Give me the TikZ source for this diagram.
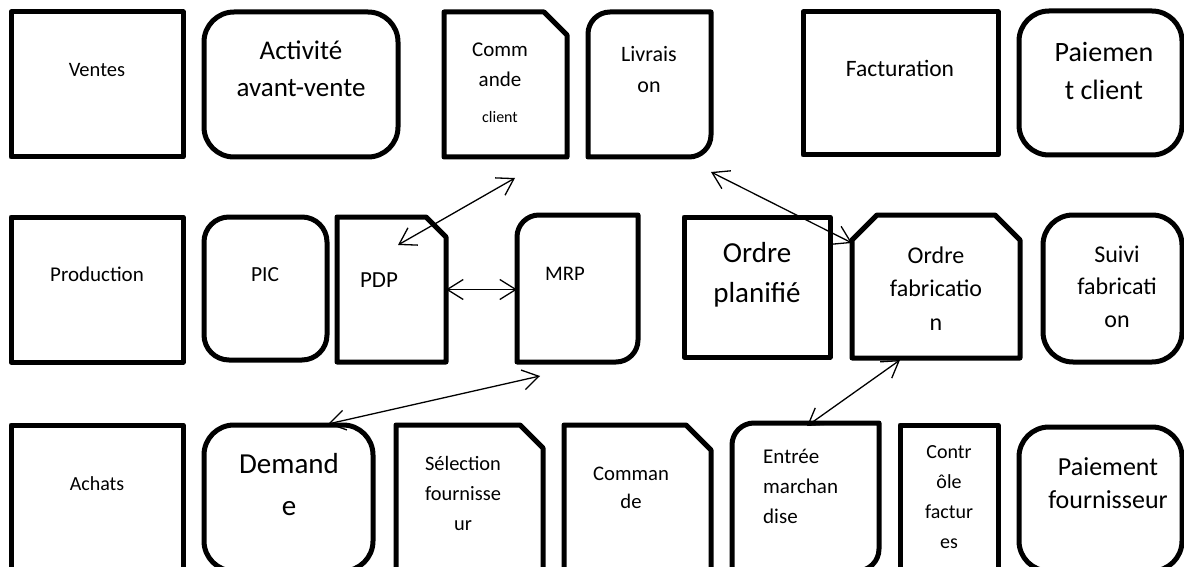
\documentclass[tikz,border=0pt]{standalone}
\usepackage{fontspec}
\setmainfont{Carlito}
\usetikzlibrary{arrows.meta,calc}

% multi-line label whose baseline is that of its first line
\newcommand{\stackedtext}[2][c]{\begin{tabular}[t]{@{}#1@{}}#2\end{tabular}}

\tikzset{
  frame/.style={rectangle, inner sep=0pt, outer sep=0pt, line width=5pt, line join=round},
  plainbox/.style={frame, draw},
  roundbox/.style={frame, draw, rounded corners=#1},
  shapeonly/.style={frame, draw=none},
  outline/.style={line width=5pt, line join=round},
  lbl/.style 2 args={inner sep=0pt, anchor=base, font=\fontsize{#1}{#2}\selectfont},
  link/.style={line width=1.3pt, {Straight Barb[length=16pt,width=20pt]}-{Straight Barb[length=16pt,width=20pt]}}
}

\begin{document}
\begin{tikzpicture}[x=1pt, y=1pt]
\useasboundingbox (0,0) rectangle (1184,-567);
\fill[white] (0,0) rectangle (1184,-567);
\clip (0,0) rectangle (1184,-567);

% ---------- Ventes row ----------
\node[plainbox, minimum width=172, minimum height=145] (ventes) at (97,-84.5) {};
\node[roundbox=30pt, minimum width=194, minimum height=145] (avv) at (301,-84.5) {};
\node[shapeonly, minimum width=123, minimum height=145] (cmdc) at (505.5,-84.5) {};
\draw[outline] (cmdc.south west) -- (cmdc.north west) -- ([xshift=-23pt]cmdc.north east)
  -- ([yshift=-23pt]cmdc.north east) -- (cmdc.south east) -- cycle;
\node[shapeonly, minimum width=123, minimum height=145] (livr) at (649.5,-84.5) {};
\draw[outline] (livr.south west) -- ([yshift=-22pt]livr.north west) arc[start angle=180, end angle=90, radius=22pt]
  -- (livr.north east) -- ([yshift=22pt]livr.south east) arc[start angle=0, end angle=-90, radius=22pt] -- cycle;
\node[plainbox, minimum width=195, minimum height=143] (fact) at (900.5,-83.5) {};
\node[roundbox=30pt, minimum width=163, minimum height=144] (paic) at (1100.5,-83) {};

% ---------- Production row ----------
\node[plainbox, minimum width=172, minimum height=145] (prod) at (97,-289.5) {};
\node[roundbox=25pt, minimum width=123, minimum height=143] (pic) at (265.5,-288.5) {};
\node[shapeonly, minimum width=109, minimum height=145] (pdp) at (391.5,-289.5) {};
\draw[outline] (pdp.south west) -- (pdp.north west) -- ([xshift=-20pt]pdp.north east)
  -- ([yshift=-20pt]pdp.north east) -- (pdp.south east) -- cycle;
\node[shapeonly, minimum width=121, minimum height=147] (mrp) at (577.5,-288.5) {};
\draw[outline] (mrp.south west) -- ([yshift=-22pt]mrp.north west) arc[start angle=180, end angle=90, radius=22pt]
  -- (mrp.north east) -- ([yshift=22pt]mrp.south east) arc[start angle=0, end angle=-90, radius=22pt] -- cycle;
\node[plainbox, minimum width=146, minimum height=140] (ordp) at (757,-287) {};
\node[shapeonly, minimum width=168, minimum height=143] (ordf) at (936,-286.5) {};
\draw[outline] (ordf.south west) -- ([yshift=-25pt]ordf.north west) -- ([xshift=25pt]ordf.north west)
  -- ([xshift=-25pt]ordf.north east) -- ([yshift=-25pt]ordf.north east) -- (ordf.south east) -- cycle;
\node[roundbox=30pt, minimum width=139, minimum height=147] (suivi) at (1112.5,-288.5) {};

% ---------- Achats row ----------
\node[plainbox, minimum width=172, minimum height=146] (achats) at (97,-498) {};
\node[roundbox=30pt, minimum width=169, minimum height=146] (dem) at (288.5,-498) {};
\node[shapeonly, minimum width=147, minimum height=146] (sel) at (469.5,-498) {};
\draw[outline] (sel.south west) -- (sel.north west) -- ([xshift=-23pt]sel.north east)
  -- ([yshift=-23pt]sel.north east) -- (sel.south east) -- cycle;
\node[shapeonly, minimum width=147, minimum height=146] (cmdf) at (637.5,-498) {};
\draw[outline] (cmdf.south west) -- (cmdf.north west) -- ([xshift=-25pt]cmdf.north east)
  -- ([yshift=-25pt]cmdf.north east) -- (cmdf.south east) -- cycle;
\node[shapeonly, minimum width=147, minimum height=148] (entree) at (805.5,-497) {};
\draw[outline] (entree.south west) -- ([yshift=-22pt]entree.north west) arc[start angle=180, end angle=90, radius=22pt]
  -- (entree.north east) -- ([yshift=22pt]entree.south east) arc[start angle=0, end angle=-90, radius=22pt] -- cycle;
\node[plainbox, minimum width=98, minimum height=146] (ctrl) at (949,-498) {};
\node[roundbox=30pt, minimum width=163, minimum height=144] (paif) at (1100.5,-499) {};

% ---------- labels ----------
\node[lbl={20.5}{30}] (ventes-t) at (97,-77) {Ventes};
\node[lbl={27}{37}] (avv-t) at (301,-60) {\stackedtext{Activité\\avant-vente}};
\node[lbl={21}{30}] (cmdc-t) at (500,-57) {\stackedtext{Comm\\ande\\[6pt]{\fontsize{16}{16}\selectfont client}}};
\node[lbl={22}{31}] (livr-t) at (649,-62) {\stackedtext{Livrais\\on}};
\node[lbl={23.5}{30}] (fact-t) at (900,-77) {Facturation};
\node[lbl={28}{38}] (paic-t) at (1104,-62) {\stackedtext{Paiemen\\t client}};

\node[lbl={21}{30}] (prod-t) at (97,-281) {Production};
\node[lbl={21.5}{30}] (pic-t) at (265,-281) {PIC};
\node[lbl={23}{30}] (pdp-t) at (379,-287) {PDP};
\node[lbl={20.7}{30}] (mrp-t) at (565,-280) {MRP};
\node[lbl={29}{40}] (ordp-t) at (757,-262) {\stackedtext{Ordre\\planifié}};
\node[lbl={24}{33.5}] (ordf-t) at (936,-263) {\stackedtext{Ordre\\fabricatio\\n}};
\node[lbl={24}{32.5}] (suivi-t) at (1117,-262) {\stackedtext{Suivi\\fabricati\\on}};

\node[lbl={20}{30}] (achats-t) at (97,-490) {Achats};
\node[lbl={29}{42}] (dem-t) at (289,-473) {\stackedtext{Demand\\e}};
\node[lbl={20.4}{30}] (sel-t) at (463,-470) {\stackedtext{Sélection\\fournisse\\ur}};
\node[lbl={20.7}{28}] (cmdf-t) at (631,-480) {\stackedtext{Comman\\de}};
\node[lbl={21}{30}, anchor=base west] (entree-t) at (763,-463) {\stackedtext[l]{Entrée\\marchan\\dise}};
\node[lbl={20}{30}] (ctrl-t) at (949,-458) {\stackedtext{Contr\\ôle\\factur\\es}};
\node[lbl={26}{33}] (paif-t) at (1108,-475) {\stackedtext{Paiement\\fournisseur}};

% ---------- connector ends ----------
\coordinate (cmdc-end) at ($(cmdc.south west)+(71,-21)$);
\coordinate (pdp-end) at ($(pdp.north west)+(61,-28)$);
\coordinate (livr-end) at ($(livr.south east)+(0,-15)$);
\coordinate (ordf-top) at ($(ordf.north west)+(0,-28)$);
\coordinate (mrp-end) at ($(mrp.south west)+(23,-14)$);
\coordinate (dem-end) at ($(dem.north west)+(124,1)$);
\coordinate (ordf-bot) at ($(ordf.south west)+(48,-2)$);
\coordinate (entree-end) at ($(entree.north west)+(75,-3)$);

% ---------- connectors ----------
\draw[link] (cmdc-end) -- (pdp-end);
\draw[link] (livr-end) -- (ordf-top);
\draw[link] (pdp.east) -- (pdp.east -| mrp.west);
\draw[link] (mrp-end) -- (dem-end);
\draw[link] (ordf-bot) -- (entree-end);
\end{tikzpicture}
\end{document}
